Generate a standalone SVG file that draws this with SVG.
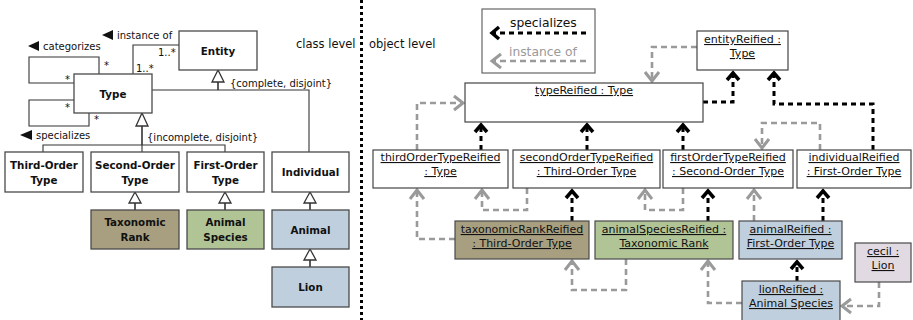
<svg xmlns="http://www.w3.org/2000/svg" width="913" height="320" viewBox="0 0 913 320">
  <defs>
    <style>
      .cls rect { fill: #fff; stroke: #4a4a4a; stroke-width: 1.3; }
      .cls text { font-family: "DejaVu Sans", "Liberation Sans", sans-serif; font-weight: bold; font-size: 10.3px; text-anchor: middle; fill: #111; }
      .obj rect { fill: #fff; stroke: #444; stroke-width: 1.2; }
      .obj text { font-family: "DejaVu Sans", "Liberation Sans", sans-serif; font-size: 11px; text-anchor: middle; text-decoration: underline; fill: #111; }
      .lbl { font-family: "DejaVu Sans", "Liberation Sans", sans-serif; font-size: 10px; fill: #111; }
      .lvl { font-family: "DejaVu Sans", "Liberation Sans", sans-serif; font-size: 11.5px; fill: #111; }
      .leg { font-family: "DejaVu Sans", "Liberation Sans", sans-serif; font-size: 12.3px; }
      .assoc { fill: none; stroke: #333; stroke-width: 1.1; }
      .gen { fill: #fff; stroke: #333; stroke-width: 1.3; }
      .stem { fill: none; stroke: #333; stroke-width: 1.6; }
      .spec { fill: none; stroke: #000; stroke-width: 3; stroke-dasharray: 5 4; marker-end: url(#chevBlack); }
      .inst { fill: none; stroke: #9a9a9a; stroke-width: 2.6; stroke-dasharray: 6 4; marker-end: url(#chevGray); }
      .tax rect { fill: #a89f80; stroke: #4a4a4a; }
      .spc rect { fill: #b1c496; stroke: #4a4a4a; }
      .ani rect { fill: #c0cfdd; stroke: #4a4a4a; }
      .lio rect { fill: #e2dae3; stroke: #4a4a4a; }
    </style>
    <marker id="chevBlack" markerUnits="userSpaceOnUse" viewBox="-12 -10 16 20" markerWidth="16" markerHeight="20" refX="0" refY="0" orient="auto" overflow="visible">
      <path d="M-7,-6 L0,0 L-7,6" fill="none" stroke="#000" stroke-width="3.5"/>
    </marker>
    <marker id="chevGray" markerUnits="userSpaceOnUse" viewBox="-14 -10 18 20" markerWidth="18" markerHeight="20" refX="0" refY="0" orient="auto" overflow="visible">
      <path d="M-9,-7 L0,0 L-9,7" fill="none" stroke="#9a9a9a" stroke-width="3"/>
    </marker>
  </defs>

  <rect width="913" height="320" fill="#fff"/>

  <!-- class level -->
  <g id="connectors-class">
    <!-- categorizes self-association -->
    <path class="assoc" d="M74,83 H29 V57 H99 V74"/>
    <!-- specializes self-association -->
    <path class="assoc" d="M74,100 H29 V126 H89 V113"/>
    <!-- instance of association -->
    <path class="assoc" d="M133,74 V45 H179"/>
    <!-- generalization set {complete, disjoint} -->
    <path class="assoc" d="M152,90 H309 V152"/>
    <path class="stem" d="M218,82 V90"/>
    <polygon class="gen" points="218,70 212,82 224,82"/>
    <!-- generalization set {incomplete, disjoint} -->
    <path class="assoc" d="M43,152 V145 H225 V152 M142,145 V152"/>
    <path class="stem" d="M142,126 V145"/>
    <polygon class="gen" points="142,113 136,126 148,126"/>
    <!-- single generalizations -->
    <path class="stem" d="M135,203 V210 M225,203 V210 M310,203 V210 M310,260 V267"/>
    <polygon class="gen" points="135,192 129,203 141,203"/>
    <polygon class="gen" points="225,192 219,203 231,203"/>
    <polygon class="gen" points="310,192 304,203 316,203"/>
    <polygon class="gen" points="310,249 304,260 316,260"/>

    <!-- association labels -->
    <polygon points="28,46 39,41 39,51" fill="#111"/>
    <text class="lbl" x="43" y="50">categorizes</text>
    <polygon points="102,35 113,30 113,40" fill="#111"/>
    <text class="lbl" x="117" y="39">instance of</text>
    <polygon points="20,135 32,130 32,140" fill="#111"/>
    <text class="lbl" x="36" y="139">specializes</text>
    <text class="lbl" x="104" y="69">*</text>
    <text class="lbl" x="65" y="83">*</text>
    <text class="lbl" x="65" y="111">*</text>
    <text class="lbl" x="94" y="123">*</text>
    <text class="lbl" x="158" y="56">1..*</text>
    <text class="lbl" x="136" y="72">1..*</text>
    <text class="lbl" x="230" y="87">{complete, disjoint}</text>
    <text class="lbl" x="147" y="141">{incomplete, disjoint}</text>
  </g>

  <g id="entity" class="cls"><rect x="179" y="31" width="78" height="39"/><text x="218" y="55">Entity</text></g>
  <g id="type" class="cls"><rect x="74" y="74" width="78" height="39"/><text x="113" y="98">Type</text></g>
  <g id="third-order-type" class="cls"><rect x="5" y="152" width="78" height="40"/><text x="44" y="169">Third-Order</text><text x="44" y="184">Type</text></g>
  <g id="second-order-type" class="cls"><rect x="91" y="152" width="88" height="40"/><text x="135" y="169">Second-Order</text><text x="135" y="184">Type</text></g>
  <g id="first-order-type" class="cls"><rect x="187" y="152" width="77" height="40"/><text x="225.5" y="169">First-Order</text><text x="225.5" y="184">Type</text></g>
  <g id="individual" class="cls"><rect x="272" y="152" width="77" height="40"/><text x="310.5" y="176">Individual</text></g>
  <g id="taxonomic-rank" class="cls tax"><rect x="91" y="210" width="88" height="39"/><text x="135" y="226">Taxonomic</text><text x="135" y="241">Rank</text></g>
  <g id="animal-species" class="cls spc"><rect x="187" y="210" width="77" height="39"/><text x="225.5" y="226">Animal</text><text x="225.5" y="241">Species</text></g>
  <g id="animal" class="cls ani"><rect x="272" y="210" width="77" height="39"/><text x="310.5" y="234">Animal</text></g>
  <g id="lion" class="cls ani"><rect x="272" y="267" width="77" height="40"/><text x="310.5" y="291">Lion</text></g>

  <!-- level divider -->
  <line x1="361.5" y1="0" x2="361.5" y2="320" stroke="#000" stroke-width="3" stroke-dasharray="3 3"/>
  <text class="lvl" x="296" y="48">class level</text>
  <text class="lvl" x="369" y="48">object level</text>

  <!-- legend -->
  <g id="legend">
    <rect x="482" y="9" width="113" height="64" fill="#fff" stroke="#666" stroke-width="1.2"/>
    <text class="leg" x="510" y="27" fill="#111">specializes</text>
    <path class="spec" d="M586,33 H492"/>
    <text class="leg" x="509" y="56" fill="#9a9a9a">instance of</text>
    <path class="inst" d="M586,61 H492"/>
  </g>

  <!-- object level -->
  <g id="connectors-object">
    <path class="spec" d="M481,150 V125"/>
    <path class="spec" d="M587,150 V125"/>
    <path class="spec" d="M683,150 V125"/>
    <path class="spec" d="M703,102 H733 V73"/>
    <path class="spec" d="M873,150 V104 H774 V73"/>
    <path class="spec" d="M572,221 V191"/>
    <path class="spec" d="M708,221 V191"/>
    <path class="spec" d="M823,221 V191"/>
    <path class="spec" d="M797,281 V262"/>

    <path class="inst" d="M697,47 H652 V81"/>
    <path class="inst" d="M417,150 V103 H463"/>
    <path class="inst" d="M527,188 V210 H482 V190"/>
    <path class="inst" d="M455,239 H417 V190"/>
    <path class="inst" d="M683,188 V210 H645 V190"/>
    <path class="inst" d="M626,259 V290 H572 V261"/>
    <path class="inst" d="M754,221 V190"/>
    <path class="inst" d="M820,150 V123 H762 V148"/>
    <path class="inst" d="M742,303 H708 V261"/>
    <path class="inst" d="M879,282 V306 H842"/>
  </g>

  <g id="typeReified" class="obj"><rect x="465" y="83" width="238" height="39"/><text x="584" y="94">typeReified : Type</text></g>
  <g id="entityReified" class="obj"><rect x="697" y="31" width="91" height="39"/><text x="742.5" y="43">entityReified :</text><text x="742.5" y="57">Type</text></g>
  <g id="thirdOrderTypeReified" class="obj"><rect x="373" y="150" width="135" height="38"/><text x="440.5" y="161">thirdOrderTypeReified</text><text x="440.5" y="175">: Type</text></g>
  <g id="secondOrderTypeReified" class="obj"><rect x="513" y="150" width="147" height="38"/><text x="586.5" y="161">secondOrderTypeReified</text><text x="586.5" y="175">: Third-Order Type</text></g>
  <g id="firstOrderTypeReified" class="obj"><rect x="663" y="150" width="130" height="38"/><text x="728" y="161">firstOrderTypeReified</text><text x="728" y="175">: Second-Order Type</text></g>
  <g id="individualReified" class="obj"><rect x="797" y="150" width="114" height="38"/><text x="854" y="161">individualReified</text><text x="854" y="175">: First-Order Type</text></g>
  <g id="taxonomicRankReified" class="obj tax"><rect x="455" y="221" width="134" height="38"/><text x="522" y="233">taxonomicRankReified</text><text x="522" y="247">: Third-Order Type</text></g>
  <g id="animalSpeciesReified" class="obj spc"><rect x="595" y="221" width="138" height="38"/><text x="664" y="233">animalSpeciesReified :</text><text x="664" y="247">Taxonomic Rank</text></g>
  <g id="animalReified" class="obj ani"><rect x="739" y="221" width="103" height="38"/><text x="790.5" y="233">animalReified :</text><text x="790.5" y="247">First-Order Type</text></g>
  <g id="cecil" class="obj lio"><rect x="855" y="243" width="56" height="39"/><text x="883" y="255">cecil :</text><text x="883" y="269">Lion</text></g>
  <g id="lionReified" class="obj ani"><rect x="742" y="281" width="98" height="40"/><text x="791" y="293">lionReified :</text><text x="791" y="307">Animal Species</text></g>
</svg>
